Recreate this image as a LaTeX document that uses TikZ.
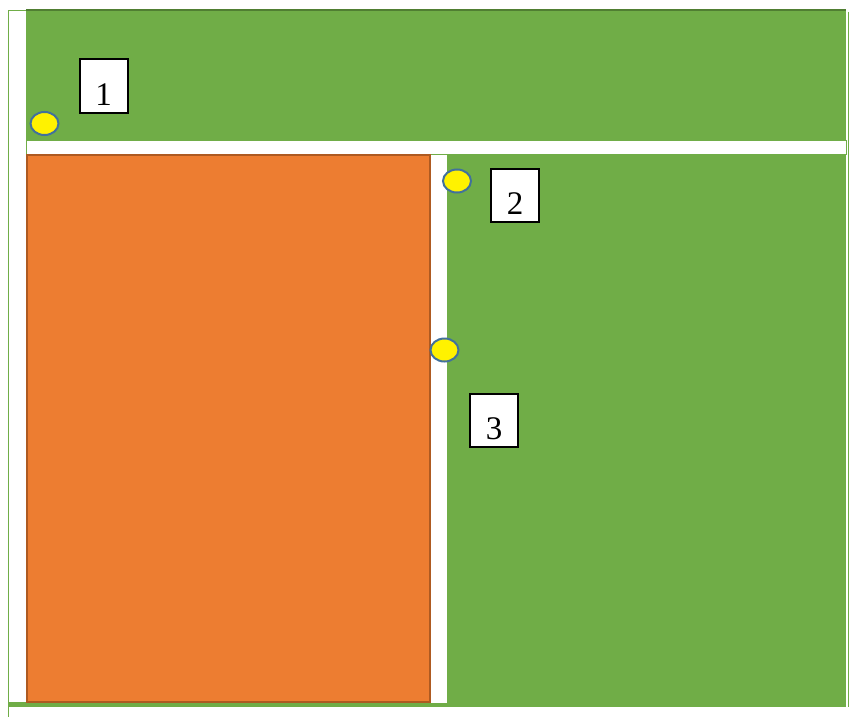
\documentclass[tikz,border=0pt]{standalone}
\usepackage{fontspec}
\setmainfont{Liberation Serif}
\usetikzlibrary{shapes.geometric}
\definecolor{grass}{HTML}{70AD47}
\definecolor{grassdark}{HTML}{507E32}
\definecolor{clay}{HTML}{ED7D31}
\definecolor{claydark}{HTML}{AE5A21}
\definecolor{spotline}{HTML}{41719C}
\tikzset{
  numbox/.style = {draw, line width = 2pt, fill = white, minimum width = 48pt, minimum height = 53pt,
    inner sep = 0pt, text height = 38pt, text depth = 0pt, font = \fontsize{33}{38}\selectfont},
  spot/.style = {ellipse, draw = spotline, line width = 2pt, fill = yellow, minimum width = 28pt,
    minimum height = 23pt, inner sep = 0pt}
}
\begin{document}
\begin{tikzpicture}[x = 1pt, y = -1pt]
\useasboundingbox (0,0) rectangle (851,717);
\fill[white] (0,0) rectangle (851,717);
\fill[grass] (26,10) rectangle (846,707);
\fill[grass] (8,702) rectangle (846,707);
\draw[grass, fill = white] (8.5,10) rectangle (26,702);
\draw[grass] (8.5,702) -- (8.5,717);
\draw[grass] (848,12) -- (848,707);
\draw[grassdark, line width = 1.5pt] (26,10) -- (846,10);
% strips and the orange block
\draw[grass, fill = white] (26,140) rectangle (846,154);
\draw[claydark, fill = clay, line width = 2pt] (27,155) rectangle (430,702);
\fill[white] (431,155) rectangle (447,703);
% points and labels
\foreach \n/\x/\y in {1/44.5/123.5, 2/457/181, 3/444.5/350}
{
\node[spot] (spot\n) at (\x,\y) {};
}
\foreach \n/\x/\y in {1/103.5/86, 2/515/195, 3/494/420.5}
{
\node[numbox] (box\n) at (\x,\y) {\n};
}
\end{tikzpicture}
\end{document}
